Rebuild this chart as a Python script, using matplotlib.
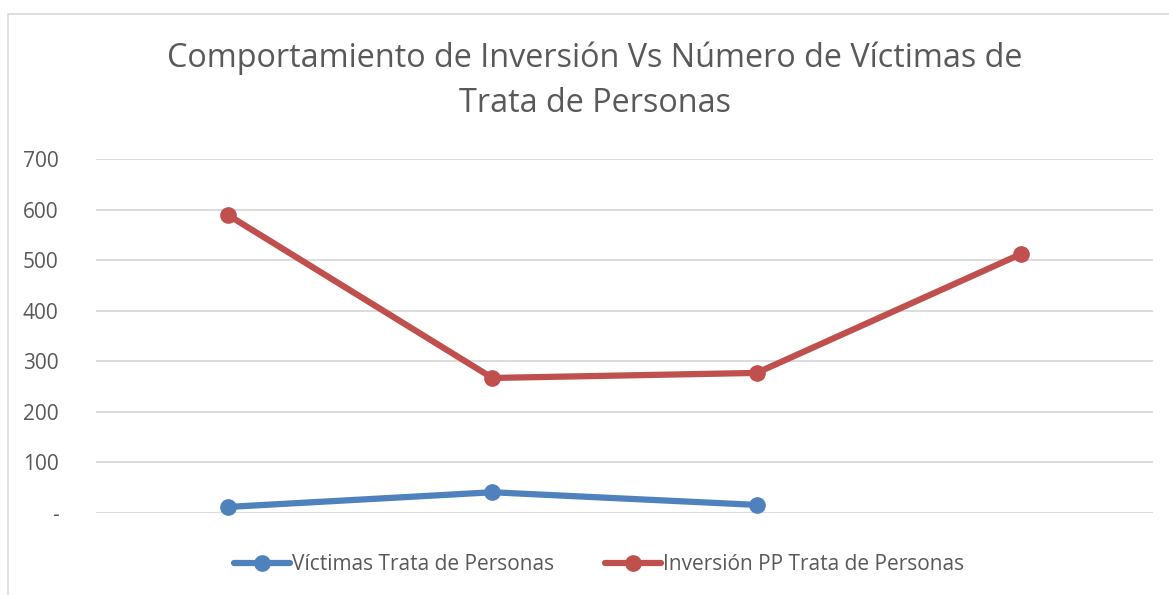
import matplotlib.pyplot as plt
from matplotlib.patches import Rectangle

plt.rcParams['font.family'] = ['Open Sans', 'DejaVu Sans']

# datos
categorias = [1, 2, 3, 4]
victimas = [12, 41, 16]
inversion = [589, 267, 277, 512]
yticks = [0, 100, 200, 300, 400, 500, 600, 700]
ytick_labels = ['-', '100', '200', '300', '400', '500', '600', '700']

fig = plt.figure(figsize=(11.69, 5.95), dpi=100)
ax = fig.add_axes([96 / 1169, 1 - 513 / 595, (1153 - 96) / 1169, 354 / 595])

# borde del área del gráfico
fig.patches.append(Rectangle((8 / 1169, -0.2), 1.2, 1.2 - 14 / 595, transform=fig.transFigure,
                             fill=False, edgecolor='#d9d9d9', linewidth=1.2))

azul = '#4f81bd'
rojo = '#c0504d'
ax.plot(categorias[:len(victimas)], victimas, color=azul, lw=4.5, marker='o', ms=11,
        label='Víctimas Trata de Personas', solid_capstyle='round')
ax.plot(categorias, inversion, color=rojo, lw=4.5, marker='o', ms=11,
        label='Inversión PP Trata de Personas', solid_capstyle='round')

ax.set_xlim(0.5, 4.5)
ax.set_ylim(0, 700)
ax.set_yticks(yticks)
ax.set_yticklabels(ytick_labels, fontsize=15, color='#595959')
ax.set_xticks([])
ax.yaxis.grid(True, color='#d9d9d9', lw=1.3)
ax.set_axisbelow(True)
ax.tick_params(axis='y', length=0, pad=27)
for s in ax.spines.values():
    s.set_visible(False)
for ln in ax.lines:
    ln.set_clip_on(False)

fig.text(595 / 1169, 1 - 58 / 595, 'Comportamiento de Inversión Vs Número de Víctimas de',
         ha='center', va='center', fontsize=23.3, color='#595959')
fig.text(595 / 1169, 1 - 104 / 595, 'Trata de Personas',
         ha='center', va='center', fontsize=23.3, color='#595959')

fig.legend(loc='center', bbox_to_anchor=(599 / 1169, 1 - 565 / 595), ncol=2, frameon=False,
           fontsize=15, labelcolor='#595959', handlelength=2.7, handletextpad=0.1,
           columnspacing=2.4)

fig.savefig('out.png', dpi=100)
